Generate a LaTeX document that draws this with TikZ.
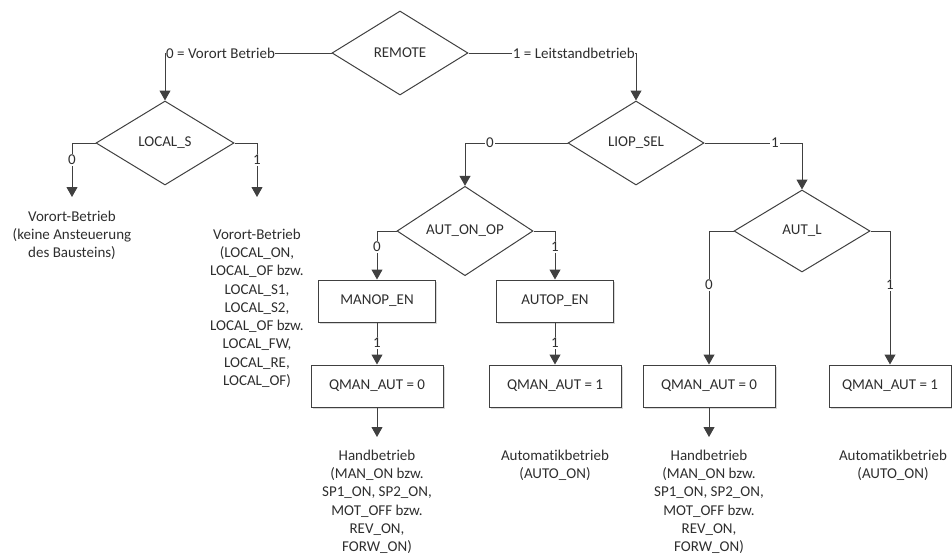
\documentclass[tikz,border=0pt]{standalone}
\usepackage{fontspec}
\setmainfont{Carlito}[Ligatures={NoCommon,NoContextual}]
\usetikzlibrary{shapes.geometric,arrows.meta,shadows}
\definecolor{ink}{HTML}{404040}
\definecolor{txt}{HTML}{2E2E2E}
\begin{document}
\begin{tikzpicture}[x=1pt,y=-1pt,
  every node/.style={font=\fontsize{15}{18.3}\selectfont, text=txt},
  decision/.style={diamond, draw=ink, line width=1pt, minimum width=136pt,
    minimum height=84pt, inner sep=0pt},
  action/.style={rectangle, draw=ink, line width=1pt, fill=white,
    minimum height=42pt, inner sep=0pt,
    drop shadow={shadow xshift=1.5pt, shadow yshift=-1.5pt, fill=black!30}},
  link/.style={draw=ink, line width=1pt},
  flow/.style={link, -{Triangle[width=11pt,length=10pt]}},
  tag/.style={fill=white, inner sep=1pt},
  result/.style={align=center, inner sep=0pt, anchor=north}
]
\useasboundingbox (0,0) rectangle (952,555);

% decisions
\node[decision] (remote) at (400,53) {REMOTE};
\node[decision, minimum width=138pt] (locals) at (165,143) {LOCAL\_S};
\node[decision] (liop) at (636,143) {LIOP\_SEL};
\node[decision, minimum height=82pt] (autonop) at (465,231) {AUT\_ON\_OP};
\node[decision, minimum height=82pt] (autl) at (802,231) {AUT\_L};

% actions
\node[action, minimum width=117pt] (manop) at (377,301) {MANOP\_EN};
\node[action, minimum width=117pt] (autop) at (555,301) {AUTOP\_EN};
\node[action, minimum width=132pt] (qa) at (377,386) {QMAN\_AUT = 0};
\node[action, minimum width=132pt] (qb) at (555,386) {QMAN\_AUT = 1};
\node[action, minimum width=132pt] (qc) at (709,386) {QMAN\_AUT = 0};
\node[action, minimum width=122pt] (qd) at (890,386) {QMAN\_AUT = 1};

% outcomes
\node[result] (rl0) at (72,210.5) {Vorort-Betrieb\\(keine Ansteuerung\\des Bausteins)};
\node[result] (rl1) at (257,228.5) {Vorort-Betrieb\\(LOCAL\_ON,\\LOCAL\_OF bzw.\\LOCAL\_S1,\\LOCAL\_S2,\\LOCAL\_OF bzw.\\LOCAL\_FW,\\LOCAL\_RE,\\LOCAL\_OF)};
\node[result] (ha) at (377,449.5) {Handbetrieb\\(MAN\_ON bzw.\\SP1\_ON, SP2\_ON,\\MOT\_OFF bzw.\\REV\_ON,\\FORW\_ON)};
\node[result] (hb) at (555,449.5) {Automatikbetrieb\\(AUTO\_ON)};
\node[result] (hc) at (709,449.5) {Handbetrieb\\(MAN\_ON bzw.\\SP1\_ON, SP2\_ON,\\MOT\_OFF bzw.\\REV\_ON,\\FORW\_ON)};
\node[result] (hd) at (893,449.5) {Automatikbetrieb\\(AUTO\_ON)};

% connectors
\draw[flow] (remote.west) -| (locals.north);
\draw[flow] (remote.east) -| (liop.north);
\draw[flow, shorten >=13.5pt] (locals.west) -| (rl0.north);
\draw[flow, shorten >=31.5pt] (locals.east) -| (rl1.north);
\draw[flow] (liop.west) -| (autonop.north);
\draw[flow] (liop.east) -| (autl.north);
\draw[flow] (autonop.west) -| (manop.north);
\draw[flow] (autonop.east) -| (autop.north);
\draw[flow] (autl.west) -| (qc.north);
\draw[flow] (autl.east) -| (qd.north);
\draw[flow] (manop) -- (qa);
\draw[flow] (autop) -- (qb);
\draw[flow, shorten >=12.5pt] (qa.south) -- (ha.north);
\draw[flow, shorten >=12.5pt] (qc.south) -- (hc.north);

% branch labels
\node[tag, anchor=west, xshift=0.5pt, inner sep=0.5pt] (t0) at (locals.north |- remote.west) {0 = Vorort Betrieb};
\node[tag, anchor=east, xshift=-0.5pt, inner sep=0.5pt] (t1) at (liop.north |- remote.east) {1 = Leitstandbetrieb};
\node[tag] (l0) at (72,160) {0};
\node[tag] (l1) at (257,160) {1};
\node[tag] (p0) at (490,143) {0};
\node[tag] (p1) at (775,143) {1};
\node[tag] (a0) at (377,247) {0};
\node[tag] (a1) at (555,247) {1};
\node[tag] (b0) at (709,285) {0};
\node[tag] (b1) at (890,285) {1};
\node[tag] (m1) at (377,343) {1};
\node[tag] (n1) at (555,343) {1};
\end{tikzpicture}
\end{document}
